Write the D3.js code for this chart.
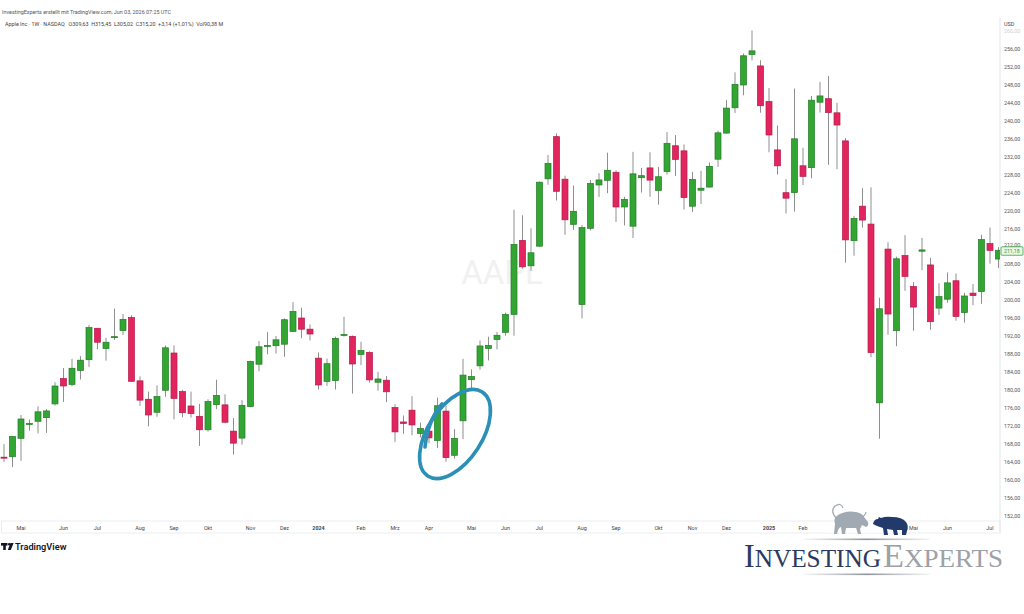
<!DOCTYPE html>
<html><head><meta charset="utf-8">
<script src="https://cdn.jsdelivr.net/npm/d3@7"></script>
<style>
body{margin:0;background:#fff;}
svg{display:block;font-family:Roboto,"Liberation Sans",Arial,sans-serif;}
</style>
</head><body>
<svg id="chart" width="1024" height="614"></svg>
<script>
// ---------- DATA (AAPL weekly candles) ----------
const firstWeek = "2023-04-17";
const lastWeek  = "2025-07-14";
const opens = [165.1,165.2,169.3,172.5,173.1,173.9,176.96,182.6,181.3,184.4,186.8,193.8,189.3,191.9,193.3,196.2,182.1,178.0,175.1,180.0,
  188.3,179.7,176.5,174.2,171.2,176.8,176.75,170.9,169.35,176.38,185.8,189.89,189.92,190.26,193.11,196.09,193.61,187.15,181.99,182.16,
  192.3,192.01,188.0,188.42,181.79,182.24,176.15,172.94,175.57,170.4,170.9,168.8,175.36,165.52,173.2,182.35,185.44,189.33,191.3,192.9,
  196.9,213.37,207.72,212.09,227.09,236.48,227.01,216.96,199.09,216.07,225.72,226.76,228.55,220.82,216.54,227.34,229.52,224.5,228.7,234.45,
  233.32,220.99,224.55,225.25,231.46,237.27,242.91,247.99,254.77,252.23,244.31,233.53,224.0,224.02,229.99,229.57,244.15,244.93,241.79,235.54,
  213.31,221.0,217.01,177.2,211.44,193.27,210.0,203.1,210.97,207.91,198.3,200.28,204.39,197.3,201.63,202.01,212.68,209.22];
const highs = [168.0,169.85,174.5,173.5,176.4,175.8,181.8,184.95,187.0,187.6,194.5,193.9,191.7,198.2,197.0,196.7,183.1,179.7,181.1,189.98,
  189.98,180.1,179.7,176.97,177.99,182.34,179.1,173.8,177.78,186.57,190.96,192.93,192.09,195.99,199.62,198.39,194.66,188.44,187.05,191.95,
  196.38,192.2,190.8,188.67,184.1,183.2,176.9,174.38,178.67,172.8,171.9,178.36,176.63,171.34,187.0,184.66,191.1,191.92,193.0,197.3,
  220.2,218.95,216.07,226.45,232.39,237.23,227.78,225.6,216.78,226.83,228.34,232.92,229.0,223.09,233.09,229.52,233.0,229.75,237.49,236.85,
  234.73,228.66,228.87,230.72,237.81,244.63,250.8,255.0,260.1,253.5,247.33,238.96,227.03,247.19,234.0,245.55,248.69,250.0,244.03,236.16,
  218.84,225.02,225.19,200.61,212.94,209.75,214.56,204.1,213.94,209.48,203.81,206.24,206.0,201.7,203.67,214.65,216.23,211.89];
const lows = [164.0,162.9,164.3,171.0,170.4,170.5,176.6,177.4,180.9,182.4,185.2,189.1,186.6,191.2,192.3,181.9,176.55,171.96,174.1,178.55,
  173.54,173.98,173.9,167.6,170.8,175.8,172.64,165.67,167.9,176.21,184.2,188.0,188.19,187.45,192.97,191.6,191.09,180.17,181.0,180.17,
  191.94,179.25,185.6,181.67,179.9,177.38,168.49,170.3,170.0,169.5,168.2,167.11,164.08,164.77,169.11,180.42,184.62,186.63,189.1,192.15,
  192.15,207.11,206.59,211.92,225.77,222.27,214.62,215.7,196.0,215.6,223.04,223.89,217.48,216.71,213.92,224.02,223.07,221.33,228.0,227.76,
  220.27,219.71,221.5,225.17,229.74,237.16,241.75,245.69,253.45,241.82,233.0,228.03,219.38,219.79,225.7,227.2,241.84,230.2,229.23,208.42,
  209.97,216.23,187.34,169.21,192.37,189.81,202.16,193.25,206.75,193.46,196.78,199.5,195.5,195.07,198.96,199.26,208.19,207.22];
const closes = [165.0,169.7,173.6,172.6,175.2,175.4,180.95,180.95,184.9,186.7,193.97,190.7,190.7,191.94,195.8,182.0,177.8,174.5,178.6,189.46,
  178.18,175.01,174.8,171.2,177.49,178.85,172.88,168.22,176.65,186.4,189.69,189.97,191.24,195.71,197.57,193.6,192.53,181.18,185.92,191.56,
  192.42,185.85,188.85,182.31,182.52,179.66,170.73,172.62,172.28,171.48,169.4,176.55,165.0,169.3,183.38,183.05,189.87,189.98,192.25,196.89,
  212.49,207.49,210.62,226.34,230.54,224.31,217.96,219.86,216.24,226.05,226.84,229.0,220.82,222.5,228.2,227.79,226.8,227.55,235.0,231.41,
  222.91,226.96,225.0,229.87,237.33,242.84,248.13,254.49,255.59,243.36,236.85,229.98,222.78,236.0,227.63,244.6,245.55,241.84,239.07,213.49,
  218.27,217.9,188.38,198.15,196.98,209.28,205.35,198.53,211.26,195.27,200.85,203.92,196.45,201.0,201.08,213.55,211.16,211.18];

const monthTickDates = ["2023-05-01","2023-06-05","2023-07-03","2023-08-07","2023-09-04","2023-10-02","2023-11-06","2023-12-04",
  "2024-01-01","2024-02-05","2024-03-04","2024-04-01","2024-05-06","2024-06-03","2024-07-01","2024-08-05","2024-09-02","2024-10-07",
  "2024-11-04","2024-12-02","2025-01-06","2025-02-03","2025-03-03","2025-04-07","2025-05-05","2025-06-02","2025-07-07"];
const monthTickLabels = ["Mai","Jun","Jul","Aug","Sep","Okt","Nov","Dez","2024","Feb","Mrz","Apr","Mai","Jun","Jul","Aug","Sep","Okt",
  "Nov","Dez","2025","Feb","Mär","Apr","Mai","Jun","Jul"];
const priceTicks = [152,156,160,164,168,172,176,180,184,188,192,196,200,204,208,212,216,220,224,228,232,236,240,244,248,252,256,260];
const lastPrice = 211.18;
const headerLine1 = "InvestingExperts erstellt mit TradingView.com, Jun 03, 2026 07:25 UTC";
const headerLine2 = "Apple Inc · 1W · NASDAQ   O309,63  H315,45  L305,02  C315,20  +3,14 (+1,01%)  Vol90,38 M";
const symbolWatermark = "AAPL";

// ---------- BUILD ----------
const parse = d3.utcParse("%Y-%m-%d"), fmt = d3.utcFormat("%Y-%m-%d");
const weeks = d3.utcMonday.range(parse(firstWeek), d3.utcDay.offset(parse(lastWeek), 1)).map(fmt);
const candles = weeks.map((d, i) => ({d, o: opens[i], h: highs[i], l: lows[i], c: closes[i]}));

const svg = d3.select("#chart");
svg.append("rect").attr("width", 1024).attr("height", 614).attr("fill", "#fff");

const plotRight = 1000, plotTop = 17, axisTop = 521, axisBottom = 533;
const x = d3.scalePoint().domain(weeks).range([4, 4 + 8.5 * (weeks.length - 1)]);
const y = d3.scaleLinear().domain([152, 256]).range([516, 49]);
const fmtPrice = v => d3.format(".2f")(v).replace(".", ",");

// header
svg.append("text").attr("x", 2).attr("y", 14).attr("font-size", 5.4).attr("fill", "#555").text(headerLine1);
svg.append("text").attr("x", 5).attr("y", 25.5).attr("font-size", 5.4).attr("fill", "#444").attr("xml:space","preserve").text(headerLine2);

// frame lines
svg.append("line").attr("x1", plotRight).attr("x2", plotRight).attr("y1", plotTop).attr("y2", axisBottom).attr("stroke", "#e3e5ea");
svg.append("rect").attr("x", 1.5).attr("y", axisTop).attr("width", plotRight - 1.5).attr("height", axisBottom - axisTop)
  .attr("fill", "none").attr("stroke", "#e6e8ed").attr("stroke-width", 0.8);

// watermark
svg.append("text").attr("x", 502).attr("y", 284).attr("text-anchor", "middle").attr("font-size", 33)
  .attr("fill", "#f1f1f1").text(symbolWatermark);

// candles
svg.append("defs").append("clipPath").attr("id", "plotclip").append("rect")
  .attr("x", 0).attr("y", plotTop).attr("width", plotRight).attr("height", axisTop - plotTop);
const g = svg.append("g").attr("clip-path", "url(#plotclip)");
const up = {fill: "#33a533", stroke: "#217d25"}, dn = {fill: "#e2255e", stroke: "#b11a48"};
const bw = 6;
const cg = g.selectAll("g.c").data(candles).join("g").attr("class", "c");
cg.append("line").attr("x1", d => x(d.d)).attr("x2", d => x(d.d)).attr("y1", d => y(d.h)).attr("y2", d => y(d.l))
  .attr("stroke", "#8f8f8f").attr("stroke-width", 1);
cg.append("rect").attr("x", d => x(d.d) - bw / 2).attr("width", bw)
  .attr("y", d => y(Math.max(d.o, d.c)))
  .attr("height", d => Math.max(1, Math.abs(y(d.o) - y(d.c))))
  .attr("fill", d => d.c >= d.o ? up.fill : dn.fill)
  .attr("stroke", d => d.c >= d.o ? up.stroke : dn.stroke).attr("stroke-width", 0.7);

// price axis labels
svg.append("text").attr("x", 1004).attr("y", 26).attr("font-size", 5.4).attr("fill", "#444").text("USD");
svg.selectAll("text.yt").data(priceTicks).join("text").attr("class", "yt")
  .attr("x", 1004).attr("y", d => y(d) - (d === 212 ? 1.5 : 0)).attr("dy", "0.35em").attr("font-size", 5.4)
  .attr("fill", d => d === 260 ? "#cfcfcf" : "#555").text(fmtPrice);
// last price label
svg.append("rect").attr("x", 1001).attr("y", y(lastPrice) - 3.5).attr("width", 22).attr("height", 8.5)
  .attr("fill", "#eaf6ea").attr("stroke", "#3aa53a").attr("stroke-width", 0.8).attr("rx", 1);
svg.append("text").attr("x", 1004).attr("y", y(lastPrice) + 0.8).attr("dy", "0.35em").attr("font-size", 5.2)
  .attr("fill", "#2f9a2f").text(fmtPrice(lastPrice));

// time axis labels
svg.selectAll("text.xt").data(monthTickDates).join("text").attr("class", "xt")
  .attr("x", d => x(d)).attr("y", 529.5).attr("text-anchor", "middle").attr("font-size", 5.4)
  .attr("font-weight", (d, i) => /^\d{4}$/.test(monthTickLabels[i]) ? "bold" : "normal")
  .attr("fill", "#444").text((d, i) => monthTickLabels[i]);

// highlight ellipse
const ell = svg.append("g").attr("fill", "none").attr("stroke", "#2b8fb6").attr("stroke-width", 3.6).attr("stroke-linecap", "round");
ell.append("ellipse").attr("cx", 455).attr("cy", 434).attr("rx", 50).attr("ry", 27).attr("transform", "rotate(-57 455 434)");
ell.append("path").attr("d", "M425,447 Q428,420 442,404");

// TradingView logo
const tv = svg.append("g").attr("fill", "#131722");
tv.append("rect").attr("x", 1).attr("y", 543).attr("width", 6.5).attr("height", 2.6);
tv.append("rect").attr("x", 3.2).attr("y", 543).attr("width", 2.6).attr("height", 7);
tv.append("circle").attr("cx", 9.3).attr("cy", 544.3).attr("r", 1.3);
tv.append("path").attr("d", "M10.5,543 L13.6,543 L10.8,550 L7.8,550 Z");
svg.append("text").attr("x", 15).attr("y", 550).attr("font-size", 9.2).attr("font-weight", 600)
  .attr("fill", "#131722").text("TradingView");

// InvestingExperts logo
const defs = svg.select("defs");
const lg = defs.append("linearGradient").attr("id", "lineGrad");
lg.append("stop").attr("offset", "0%").attr("stop-color", "#9aa0a8").attr("stop-opacity", 0.1);
lg.append("stop").attr("offset", "50%").attr("stop-color", "#8e949c").attr("stop-opacity", 1);
lg.append("stop").attr("offset", "100%").attr("stop-color", "#9aa0a8").attr("stop-opacity", 0.1);
svg.append("rect").attr("x", 826).attr("y", 522.5).attr("width", 80).attr("height", 10).attr("fill", "#fff");
const logo = svg.append("g");
logo.append("rect").attr("x", 804).attr("y", 538.5).attr("width", 126).attr("height", 1.6).attr("fill", "url(#lineGrad)");
logo.append("rect").attr("x", 804).attr("y", 573.5).attr("width", 126).attr("height", 1.6).attr("fill", "url(#lineGrad)");
// bull
logo.append("path").attr("fill", "#a1a9b2")
  .attr("d", "M834,534 L835,524 Q833,518 838,515 Q846,510 856,512 Q862,513 864,517 L868,522 Q869,526 866,527 L862,525 L860,529 L861,534 L858,534 L856,528 L846,528 L845,534 L842,534 L841,527 Q838,528 837,534 Z");
logo.append("path").attr("fill", "none").attr("stroke", "#a1a9b2").attr("stroke-width", 1.2)
  .attr("d", "M836,518 Q830,511 835,506 Q841,502 843,508");
logo.append("path").attr("fill", "none").attr("stroke", "#a1a9b2").attr("stroke-width", 1.2).attr("d", "M863,517 Q866,514 866,512");
// bear
logo.append("path").attr("fill", "#22396b")
  .attr("d", "M873,524 Q874,519 878,519 L879,517 L881,518 Q886,516 892,517 Q902,517 906,522 Q909,526 907,531 L906,535 L902,535 L902,530 L897,530 L898,535 L894,535 L893,530 L887,529 L888,535 L884,535 L883,528 Q880,527 877,526 Z");
const t1 = logo.append("text").attr("x", 744).attr("y", 567).attr("font-family", "'Liberation Serif','DejaVu Serif',serif")
  .attr("fill", "#2b3a5e").attr("textLength", 137).attr("lengthAdjust", "spacingAndGlyphs");
t1.append("tspan").attr("font-size", 33).text("I");
t1.append("tspan").attr("font-size", 26).text("NVESTING");
const t2 = logo.append("text").attr("x", 883).attr("y", 567).attr("font-family", "'Liberation Serif','DejaVu Serif',serif")
  .attr("fill", "#9da1a8").attr("textLength", 120).attr("lengthAdjust", "spacingAndGlyphs");
t2.append("tspan").attr("font-size", 33).text("E");
t2.append("tspan").attr("font-size", 26).text("XPERTS");
</script>
</body></html>
